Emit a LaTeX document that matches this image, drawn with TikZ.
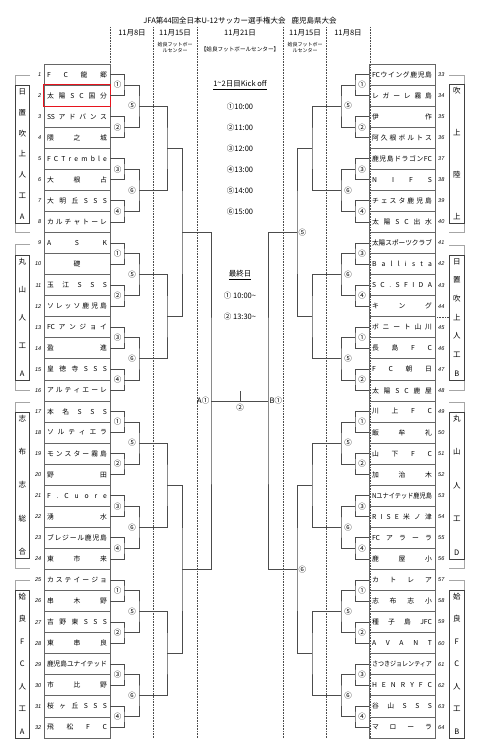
\documentclass[tikz,border=0pt]{standalone}
\usepackage{fontspec}
\setmainfont{Noto Sans CJK JP}
\newfontfamily\numf{Liberation Sans}
\usepackage{graphicx}
\newsavebox\sprbox
\makeatletter
\newcommand\sprd[1]{%
  \sbox\sprbox{\@tfor\sprx:=#1\do{\sprx}}%
  \ifdim\wd\sprbox>60pt\relax
    \resizebox{60pt}{\height}{\usebox\sprbox}%
  \else
    \hbox to 60pt{\let\sprsep\relax\@tfor\sprx:=#1\do{\sprsep\sprx\def\sprsep{\hfil}}}%
  \fi}
\makeatother
\newcommand\cnum[1]{\ifcase#1\or ①\or ②\or ③\or ④\or ⑤\or ⑥\fi}
\tikzset{
 team/.style={draw=black!60, line width=0.7pt, minimum width=66pt, minimum height=21.06pt, inner sep=0pt, font=\fontsize{6.8}{7}\selectfont},
 num/.style={inner sep=0pt, font=\numf\itshape\fontsize{5.5}{5.5}\selectfont},
 br/.style={draw=black!70, line width=0.8pt},
 rl/.style={inner sep=0pt, font=\fontsize{7.5}{8}\selectfont},
 dl/.style={draw=black!70, line width=0.6pt, densely dotted},
 gbox/.style={draw=black!75, line width=0.7pt},
 gbr/.style={draw=black!35, line width=0.7pt},
 gtext/.style={inner sep=0pt, font=\fontsize{7.5}{8}\selectfont},
 hd/.style={inner sep=0pt, font=\fontsize{7.5}{8}\selectfont},
 sm/.style={inner sep=0pt, align=center, font=\fontsize{5}{5.5}\selectfont},
 ct/.style={inner sep=0pt, font=\fontsize{7.5}{8}\selectfont},
 redbox/.style={draw={rgb,255:red,230;green,20;blue,30}, line width=1.5pt}
}
\newcommand\lteam[2]{%
  \node[team] (t#1) at (77,{64+(#1-0.5)*21.06}) {\sprd{#2}};
  \node[num,anchor=east] (n#1) at (41.5,{64+(#1-0.5)*21.06}) {#1};}
\newcommand\rteam[2]{%
  \node[team] (t#1) at (402,{64+(#1-32.5)*21.06}) {\sprd{#2}};
  \node[num,anchor=west] (n#1) at (438,{64+(#1-32.5)*21.06}) {#1};}
\newcommand\grpbox[7]{%
  \draw[gbox] (#2,#4) rectangle (#3,#5);
  \foreach \ch [count=\k] in {#7}{
    \node[gtext] (#1-\k) at ({(#2+#3)/2},{#4+6.5+(\k-1)*(#5-#4-13)/(#6-1)}) {\ch};
  }}
\begin{document}
\begin{tikzpicture}[x=1pt,y=-1pt]
\useasboundingbox (0,0) rectangle (480,754);
\fill[white] (0,0) rectangle (480,754);
% dotted column lines
\foreach \x in {110,153,197,283,326,370} \draw[dl] (\x,27) -- (\x,738);
\draw[dl] (437,317) -- (449,317);
% header
\node[hd] (title) at (240,20.5) {JFA第44回全日本U-12サッカー選手権大会\hspace{0.8em}鹿児島県大会};
\node[hd] (d1) at (132,33) {11月8日};
\node[hd] (d2) at (175,33) {11月15日};
\node[hd] (d3) at (240,33) {11月21日};
\node[hd] (d4) at (305,33) {11月15日};
\node[hd] (d5) at (348,33) {11月8日};
\node[sm] (v1) at (175,47.5) {姶良フットボー\\ルセンター};
\node[sm,font=\fontsize{5.6}{6}\selectfont] (v2) at (240,49.5) {【姶良フットボールセンター】};
\node[sm] (v3) at (305,47.5) {姶良フットボー\\ルセンター};
% center info
\node[ct] (k0) at (240,85) {\underline{1\raisebox{1pt}{\string~}2日目Kick off}};
\node[ct] (k1) at (240,107) {①10:00};
\node[ct] (k2) at (240,128) {②11:00};
\node[ct] (k3) at (240,149) {③12:00};
\node[ct] (k4) at (240,170) {④13:00};
\node[ct] (k5) at (240,191) {⑤14:00};
\node[ct] (k6) at (240,212) {⑥15:00};
\node[ct] (s0) at (240,275) {\underline{最終日}};
\node[ct] (s1) at (240,296) {① 10:00\string~};
\node[ct] (s2) at (240,317) {② 13:30\string~};
% left teams
\lteam{1}{F C 龍 郷}
\lteam{2}{太 陽 S C 国 分}
\lteam{3}{{SS} ア ド バ ン ス}
\lteam{4}{隈 之 城}
\lteam{5}{F C T r e m b l e}
\lteam{6}{大 根 占}
\lteam{7}{大 明 丘 S S S}
\lteam{8}{カ ル チ ャ ト ー レ}
\lteam{9}{A S K}
\lteam{10}{\hfil 礎 \hfil}
\lteam{11}{玉 江 S S S}
\lteam{12}{ソ レ ッ ソ 鹿 児 島}
\lteam{13}{{FC} ア ン ジ ョ イ}
\lteam{14}{盈 進}
\lteam{15}{皇 徳 寺 S S S}
\lteam{16}{ア ル テ ィ エ ー レ}
\lteam{17}{本 名 S S S}
\lteam{18}{ソ ル テ ィ エ ラ}
\lteam{19}{モ ン ス タ ー 霧 島}
\lteam{20}{野 田}
\lteam{21}{F . C u o r e}
\lteam{22}{湧 水}
\lteam{23}{ブ レ ジ ー ル 鹿 児 島}
\lteam{24}{東 市 来}
\lteam{25}{カ ス テ イ ー ジ ョ}
\lteam{26}{串 木 野}
\lteam{27}{吉 野 東 S S S}
\lteam{28}{東 串 良}
\lteam{29}{鹿 児 島 ユ ナ イ テ ッ ド}
\lteam{30}{市 比 野}
\lteam{31}{桜 ヶ 丘 S S S}
\lteam{32}{飛 松 F C}
% right teams
\rteam{33}{{FC} ウ イ ン グ 鹿 児 島}
\rteam{34}{レ ガ ー レ 霧 島}
\rteam{35}{伊 作}
\rteam{36}{阿 久 根 ボ ル ト ス}
\rteam{37}{鹿 児 島 ド ラ ゴ ン {FC}}
\rteam{38}{N I F S}
\rteam{39}{チ ェ ス タ 鹿 児 島}
\rteam{40}{太 陽 S C 出 水}
\rteam{41}{太 陽 ス ポ ー ツ ク ラ ブ}
\rteam{42}{B a l l i s t a}
\rteam{43}{S C . S F I D A}
\rteam{44}{キ ン グ}
\rteam{45}{ボ ニ ー ト 山 川}
\rteam{46}{長 島 F C}
\rteam{47}{F C 朝 日}
\rteam{48}{太 陽 S C 鹿 屋}
\rteam{49}{川 上 F C}
\rteam{50}{飯 牟 礼}
\rteam{51}{山 下 F C}
\rteam{52}{加 治 木}
\rteam{53}{N ユ ナ イ テ ッ ド 鹿 児 島}
\rteam{54}{R I S E 米 ノ 津}
\rteam{55}{{FC} ア ラ ー ラ}
\rteam{56}{鹿 屋 小}
\rteam{57}{カ ト レ ア}
\rteam{58}{志 布 志 小}
\rteam{59}{種 子 島 {JFC}}
\rteam{60}{A V A N T}
\rteam{61}{さ つ き ジ ョ レ ン テ ィ ア}
\rteam{62}{H E N R Y F C}
\rteam{63}{谷 山 S S S}
\rteam{64}{マ ロ ー ラ}
\draw[redbox] (t2.north west) rectangle (t2.south east);
% round 1
\foreach \m in {1,...,16}{
  \pgfmathtruncatemacro\ta{2*\m-1}
  \pgfmathtruncatemacro\tb{2*\m}
  \pgfmathtruncatemacro\ua{31+2*\m}
  \pgfmathtruncatemacro\ub{32+2*\m}
  \coordinate (la\m) at (124,{64+(2*\m-1)*21.06});
  \coordinate (ra\m) at (355,{64+(2*\m-1)*21.06});
  \draw[br] (t\ta.east) -| (la\m) |- (t\tb.east);
  \draw[br] (t\ua.west) -| (ra\m) |- (t\ub.west);
}
\foreach \m in {1,...,16}{
  \pgfmathtruncatemacro\v{mod(\m-1,4)+1}
  \node[rl] (lr1-\m) at (117.5,{64+(2*\m-1)*21.06}) {\cnum{\v}};
}
\foreach \m/\v in {1/1,2/2,3/3,4/4,5/3,6/4,7/1,8/2,9/1,10/2,11/3,12/4,13/1,14/2,15/3,16/4}{
  \node[rl] (rr1-\m) at (362,{64+(2*\m-1)*21.06}) {\cnum{\v}};
}
% round 2
\foreach \m in {1,...,8}{
  \pgfmathtruncatemacro\ta{2*\m-1}
  \pgfmathtruncatemacro\tb{2*\m}
  \coordinate (lb\m) at (139,{64+(4*\m-2)*21.06});
  \coordinate (rb\m) at (341,{64+(4*\m-2)*21.06});
  \draw[br] (la\ta) -| (lb\m) |- (la\tb);
  \draw[br] (ra\ta) -| (rb\m) |- (ra\tb);
}
\foreach \m/\v in {1/5,2/6,3/5,4/6,5/5,6/6,7/5,8/6}{
  \node[rl] (lr2-\m) at (132,{64+(4*\m-2)*21.06}) {\cnum{\v}};
}
\foreach \m/\v in {1/5,2/6,3/6,4/5,5/5,6/6,7/5,8/6}{
  \node[rl] (rr2-\m) at (348,{64+(4*\m-2)*21.06}) {\cnum{\v}};
}
% round 3
\foreach \m in {1,...,4}{
  \pgfmathtruncatemacro\ta{2*\m-1}
  \pgfmathtruncatemacro\tb{2*\m}
  \coordinate (lc\m) at (167,{64+(8*\m-4)*21.06});
  \coordinate (rc\m) at (312,{64+(8*\m-4)*21.06});
  \draw[br] (lb\ta) -| (lc\m) |- (lb\tb);
  \draw[br] (rb\ta) -| (rc\m) |- (rb\tb);
}
% round 4
\foreach \m in {1,2}{
  \pgfmathtruncatemacro\ta{2*\m-1}
  \pgfmathtruncatemacro\tb{2*\m}
  \coordinate (ld\m) at (182,{64+(16*\m-8)*21.06});
  \coordinate (rd\m) at (297,{64+(16*\m-8)*21.06});
  \draw[br] (lc\ta) -| (ld\m) |- (lc\tb);
  \draw[br] (rc\ta) -| (rd\m) |- (rc\tb);
}
\node[rl,anchor=west] (sf5) at (298.5,{64+8*21.06}) {⑤};
\node[rl,anchor=west] (sf6) at (298.5,{64+24*21.06}) {⑥};
% final
\coordinate (lf) at (211,{64+16*21.06});
\coordinate (rf) at (268,{64+16*21.06});
\draw[br] (ld1) -| (lf) |- (ld2);
\draw[br] (rd1) -| (rf) |- (rd2);
\draw[br] (lf) -- (rf);
\coordinate (fm) at (240,{64+16*21.06});
\coordinate (ft) at (240,391);
\draw[br] (fm) -- (ft);
\node[rl,anchor=east] (fa) at (209.5,401) {A①};
\node[rl,anchor=west] (fb) at (269.5,401) {B①};
\node[rl] (f2) at (240,407.5) {②};
% group brackets (gray)
\draw[gbr] (30,75) -- (15,75) -- (15,232) -- (30,232);
\draw[gbr] (30,244) -- (15,244) -- (15,390) -- (30,390);
\draw[gbr] (30,402) -- (15,402) -- (15,568) -- (30,568);
\draw[gbr] (30,580) -- (15,580) -- (15,738);
\draw[gbr] (449,75) -- (464,75) -- (464,232) -- (449,232);
\draw[gbr] (449,245) -- (464,245) -- (464,390) -- (449,390);
\draw[gbr] (449,402) -- (464,402) -- (464,568) -- (449,568);
\draw[gbr] (449,580) -- (464,580) -- (464,738);
% group boxes
\grpbox{gl1}{15.5}{29}{85}{223}{7}{日,置,吹,上,人,工,A}
\grpbox{gl2}{15.5}{29}{255}{380}{5}{丸,山,人,工,A}
\grpbox{gl3}{15.5}{29}{412}{558}{5}{志,布,志,総,合}
\grpbox{gl4}{15.5}{29}{590}{738}{7}{姶,良,F,C,人,工,A}
\grpbox{gr1}{449.5}{464}{84}{223}{4}{吹,上,陸,上}
\grpbox{gr2}{449.5}{464}{255}{380}{7}{日,置,吹,上,人,工,B}
\grpbox{gr3}{449.5}{464}{412}{559}{5}{丸,山,人,工,D}
\grpbox{gr4}{449.5}{464}{590}{738}{7}{姶,良,F,C,人,工,B}
\end{tikzpicture}
\end{document}
